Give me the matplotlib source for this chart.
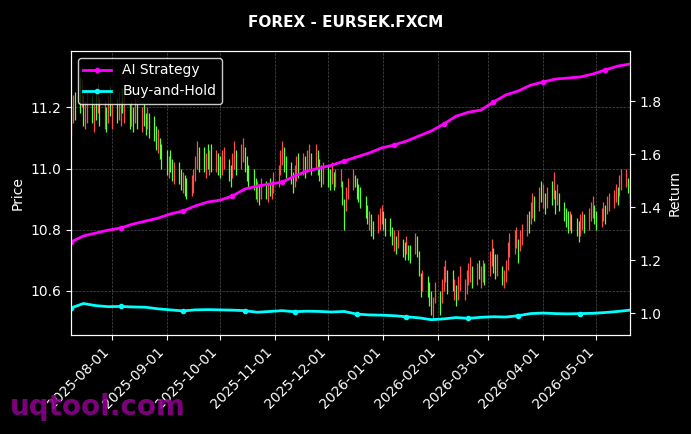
import matplotlib
matplotlib.use("Agg")
import matplotlib.pyplot as plt
import matplotlib.dates as mdates
import numpy as np
import pandas as pd

# Daily candles (business days 2025-07-09 .. 2026-05-20), one row per week
lows = [
    11.11, 11.15, 11.16,
    11.18, 11.20, 11.14, 11.13, 11.15,
    11.15, 11.12, 11.16, 11.18, 11.14,
    11.13, 11.12, 11.15, 11.17, 11.13,
    11.15, 11.16, 11.14, 11.18, 11.15,
    11.13, 11.14, 11.12, 11.15, 11.13,
    11.12, 11.14, 11.11, 11.13, 11.10,
    11.09, 11.06, 11.05, 11.03, 11.00,
    10.98, 10.97, 10.99, 10.96, 10.95,
    10.95, 10.93, 10.92, 10.91, 10.90,
    10.91, 10.92, 10.96, 11.00, 10.99,
    10.99, 10.97, 11.00, 10.98, 10.99,
    10.99, 10.98, 10.97, 10.98, 11.00,
    10.96, 10.94, 10.97, 11.00, 10.98,
    11.00, 11.02, 10.99, 10.96, 10.94,
    10.93, 10.90, 10.89, 10.88, 10.90,
    10.90, 10.89, 10.91, 10.90, 10.92,
    10.94, 10.98, 11.01, 10.99, 10.97,
    10.95, 10.92, 10.94, 10.96, 10.97,
    10.98, 10.97, 10.99, 11.00, 10.98,
    11.00, 10.98, 10.96, 10.94, 10.95,
    10.94, 10.93, 10.95, 10.93, 10.94,
    10.94, 10.88, 10.80, 10.86, 10.90,
    10.93, 10.94, 10.90, 10.89, 10.87,
    10.84, 10.82, 10.80, 10.78, 10.77,
    10.79, 10.80, 10.82, 10.80, 10.78,
    10.78, 10.75, 10.73, 10.72, 10.74,
    10.71, 10.70, 10.72, 10.70, 10.69,
    10.72, 10.71, 10.65, 10.58, 10.60,
    10.58, 10.55, 10.52, 10.51, 10.56,
    10.52, 10.56, 10.60, 10.63, 10.59,
    10.60, 10.57, 10.55, 10.57, 10.60,
    10.57, 10.59, 10.62, 10.63, 10.61,
    10.62, 10.64, 10.61, 10.63, 10.62,
    10.65, 10.68, 10.66, 10.64, 10.65,
    10.62, 10.61, 10.63, 10.67, 10.71,
    10.72, 10.74, 10.69, 10.73, 10.75,
    10.78, 10.79, 10.82, 10.84, 10.83,
    10.86, 10.89, 10.87, 10.85, 10.87,
    10.88, 10.90, 10.85, 10.88, 10.86,
    10.83, 10.81, 10.79, 10.80, 10.79,
    10.78, 10.76, 10.78, 10.80, 10.79,
    10.80, 10.83, 10.84, 10.82, 10.80,
    10.81, 10.83, 10.82, 10.85, 10.86,
    10.87, 10.89, 10.88, 10.91, 10.93,
    10.94, 10.92, 10.88,
]
highs = [
    11.20, 11.24, 11.25,
    11.30, 11.29, 11.24, 11.22, 11.25,
    11.24, 11.21, 11.26, 11.28, 11.23,
    11.22, 11.20, 11.24, 11.27, 11.21,
    11.23, 11.25, 11.22, 11.26, 11.24,
    11.21, 11.22, 11.20, 11.23, 11.21,
    11.20, 11.21, 11.18, 11.20, 11.18,
    11.17, 11.14, 11.13, 11.10, 11.08,
    11.06, 11.04, 11.06, 11.03, 11.02,
    11.02, 11.00, 10.99, 10.98, 10.97,
    10.98, 11.00, 11.04, 11.09, 11.07,
    11.07, 11.05, 11.08, 11.06, 11.08,
    11.06, 11.05, 11.04, 11.06, 11.07,
    11.03, 11.01, 11.05, 11.09, 11.06,
    11.08, 11.10, 11.07, 11.04, 11.01,
    11.00, 10.97, 10.96, 10.95, 10.97,
    10.96, 10.95, 10.97, 10.96, 10.99,
    11.01, 11.06, 11.09, 11.07, 11.04,
    11.02, 10.99, 11.01, 11.04, 11.05,
    11.05, 11.04, 11.06, 11.08, 11.05,
    11.08, 11.06, 11.03, 11.01, 11.02,
    11.01, 11.00, 11.02, 10.99, 11.00,
    11.00, 10.96, 10.90, 10.94, 10.97,
    11.00, 10.98, 10.97, 10.95, 10.94,
    10.91, 10.88, 10.86, 10.85, 10.83,
    10.85, 10.87, 10.88, 10.86, 10.84,
    10.84, 10.81, 10.80, 10.78, 10.80,
    10.77, 10.76, 10.78, 10.75, 10.75,
    10.79, 10.78, 10.73, 10.66, 10.67,
    10.65, 10.63, 10.60, 10.58, 10.63,
    10.60, 10.64, 10.68, 10.70, 10.67,
    10.67, 10.64, 10.62, 10.65, 10.68,
    10.64, 10.67, 10.69, 10.71, 10.68,
    10.69, 10.70, 10.68, 10.70, 10.69,
    10.73, 10.77, 10.74, 10.72, 10.72,
    10.68, 10.67, 10.70, 10.76, 10.79,
    10.80, 10.81, 10.77, 10.80, 10.82,
    10.85, 10.86, 10.89, 10.92, 10.91,
    10.94, 10.96, 10.95, 10.92, 10.94,
    10.96, 10.99, 10.93, 10.95, 10.92,
    10.89, 10.87, 10.86, 10.86, 10.85,
    10.84, 10.83, 10.85, 10.86, 10.85,
    10.87, 10.89, 10.91, 10.88, 10.86,
    10.87, 10.89, 10.88, 10.91, 10.92,
    10.93, 10.95, 10.94, 10.98, 11.00,
    11.00, 10.97, 10.95,
]
# candle colour per day: R = red, G = green
candle_color = "".join([
    "RRG",
    "GRGRR", "GRGRG", "RGRGR", "GRRGR", "GRGRG", "RGGRG", "GGRGG", "GRGGR",
    "GGRGG", "RRRRG", "GRGRG", "RGGRR", "GGRRG", "RRGGG", "GGRGR", "GRGRR",
    "RRRGG", "GGRRG", "RGRRG", "RGGGR", "GGRGR", "RGGRR", "RGGGG", "GGRGG",
    "RRRGG", "GGRGR", "GGRGG", "RGGGR", "GGGRR", "GRRRG", "GRGRR", "RRRRG",
    "RGRRG", "RRGGR", "GRRRR", "RRGRR", "RGRRG", "RGRGR", "GRGRG", "GGGRG",
    "GGRRG", "RRRGG", "RRGRR", "RRGRR",
    "RGG",
])

# Weekly samples of the cumulative returns (every Wednesday)
ai_strategy = [
    1.268, 1.291, 1.302, 1.313, 1.321, 1.336, 1.347, 1.358, 1.374, 1.385,
    1.404, 1.419, 1.426, 1.442, 1.468, 1.479, 1.487, 1.494, 1.517, 1.536,
    1.547, 1.558, 1.574, 1.589, 1.604, 1.623, 1.634, 1.649, 1.668, 1.687,
    1.713, 1.743, 1.758, 1.766, 1.796, 1.823, 1.838, 1.860, 1.872, 1.883,
    1.887, 1.891, 1.902, 1.917, 1.932, 1.940,
]
buy_hold = [
    1.019, 1.036, 1.028, 1.024, 1.025, 1.023, 1.022, 1.016, 1.012, 1.008,
    1.012, 1.013, 1.012, 1.011, 1.009, 1.003, 1.006, 1.009, 1.005, 1.007,
    1.006, 1.004, 1.006, 0.996, 0.993, 0.992, 0.990, 0.986, 0.982, 0.975,
    0.978, 0.983, 0.980, 0.984, 0.986, 0.985, 0.990, 0.998, 1.000, 0.998,
    0.997, 0.998, 0.999, 1.002, 1.006, 1.011,
]

dates = pd.bdate_range("2025-07-09", "2026-05-20")
line_dates = pd.date_range("2025-07-09", "2026-05-20", freq="7D")

colors = ["#ff4d4d" if c == "R" else "#5cff3a" for c in candle_color]

plt.style.use("dark_background")
fig = plt.figure(figsize=(6.91, 4.34), dpi=100)
ax1 = fig.add_axes([0.1027, 0.228, 0.809, 0.6545])
ax2 = ax1.twinx()

ax1.vlines(dates, lows, highs, colors=colors, linewidth=0.9)
ax1.set_ylim(10.456, 11.384)
ax1.set_ylabel("Price", color="white", fontsize=10)
ax1.grid(True, linestyle="--", color="gray", linewidth=0.5, alpha=0.6)

ax2.plot(line_dates, ai_strategy, color="#ff00ff", linewidth=2, marker="o",
         markersize=3, markevery=0.09, label="AI Strategy")
ax2.plot(line_dates, buy_hold, color="#00ffff", linewidth=2, marker="o",
         markersize=3, markevery=0.09, label="Buy-and-Hold")
ax2.set_ylim(0.917, 1.989)
ax2.set_yticks([1.0, 1.2, 1.4, 1.6, 1.8])
ax2.set_ylabel("Return", color="white", fontsize=10)

ax1.set_xlim(dates[0], dates[-1])
ax1.xaxis.set_major_locator(mdates.MonthLocator())
ax1.xaxis.set_major_formatter(mdates.DateFormatter("%Y-%m-%d"))
for label in ax1.get_xticklabels():
    label.set_rotation(45)
    label.set_ha("right")

for ax in (ax1, ax2):
    ax.tick_params(colors="white", labelsize=10)
    for spine in ax.spines.values():
        spine.set_color("white")

leg = ax2.legend(loc="upper left", fontsize=10, facecolor="black",
                 edgecolor="white", framealpha=0.8)

fig.suptitle("FOREX - EURSEK.FXCM", color="white", fontsize=11,
             fontweight="bold", y=0.965)
fig.text(0.014, 0.044, "uqtool.com", color="#8b008b", fontsize=20,
         fontweight="bold", va="baseline", alpha=0.9)

fig.savefig("out.png", dpi=100, facecolor="black")
